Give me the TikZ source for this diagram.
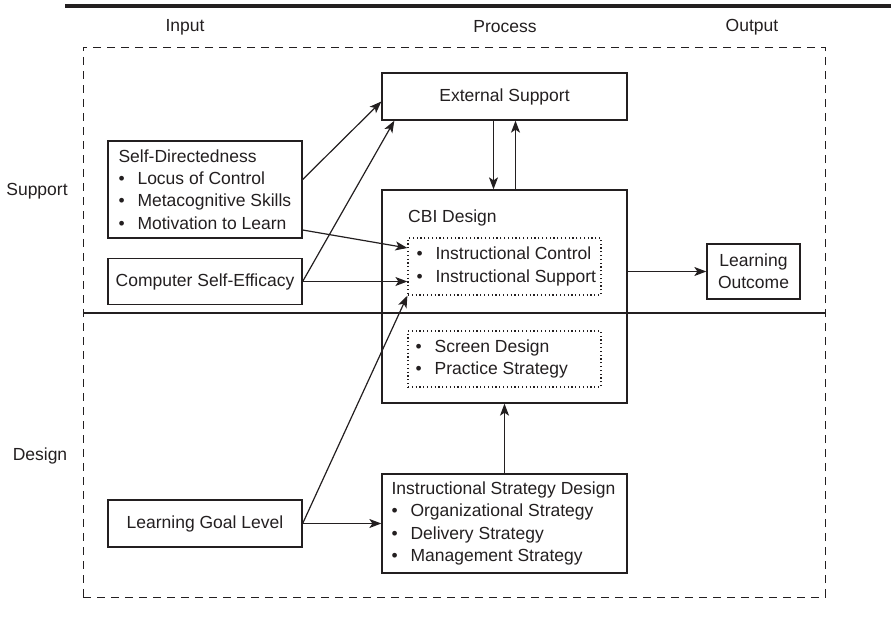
\documentclass[tikz,border=0pt]{standalone}
\usepackage{fontspec}
\setmainfont{Liberation Sans}
\usetikzlibrary{arrows.meta,calc}
\definecolor{ink}{RGB}{35,31,32}
% bullet followed by a fixed gap before the item text
\newcommand\bul{\makebox[19pt][l]{\textbullet}}

\begin{document}
\begin{tikzpicture}[x=1pt,y=-1pt,
  every node/.style={font=\fontsize{17.5}{22.4}\selectfont, text=ink},
  box/.style={draw=ink, line width=1.3pt, inner sep=0pt, rectangle},
  dotbox/.style={draw=ink, line width=1.2pt, dash pattern=on 1.2pt off 2.6pt, inner sep=0pt, rectangle},
  txt/.style={inner sep=0pt, align=left, anchor=west},
  arr/.style={draw=ink, line width=1.2pt, -{Stealth[length=12pt,width=9pt,inset=3pt]}},
]
\useasboundingbox (0,0) rectangle (891,637);

% top rule
\coordinate (ruleL) at (65,6);
\coordinate (ruleR) at (891,6);
\draw[ink, line width=3.2pt] (ruleL) -- (ruleR);

% column headers
\node (hin)  at (185,27) {Input};
\node (hpro) at (505,27) {Process};
\node (hout) at (752,27) {Output};

% row labels
\node (rsup) at (37,191) {Support};
\node (rdes) at (40,456) {Design};

% outer dashed frame and the row divider
\node[draw=ink, line width=1pt, dash pattern=on 8pt off 6pt, minimum width=742pt, minimum height=550pt, inner sep=0pt] (frame) at (454,322) {};
\coordinate (divL) at (83,313);
\coordinate (divR) at (825,313);
\draw[ink, line width=1.3pt] (divL) -- (divR);

% input boxes
\node[box, minimum width=194pt, minimum height=97pt] (selfdir) at (205,189.5) {};
\node[txt] (selfdirtxt) at ([xshift=11pt]selfdir.west)
  {Self-Directedness\\\bul Locus of Control\\\bul Metacognitive Skills\\\bul Motivation to Learn};
\node[box, minimum width=194pt, minimum height=46pt] (csse) at (205,281.5) {Computer Self-Efficacy};
\node[box, minimum width=194pt, minimum height=47pt] (lgl) at (205,523.5) {Learning Goal Level};

% process boxes
\node[box, minimum width=245pt, minimum height=47pt] (extsup) at (504.5,96.5) {External Support};
\node[box, minimum width=245pt, minimum height=213pt] (cbi) at (504.5,296.5) {};
\node[txt] (cbilabel) at (408,218) {CBI Design};
\node[dotbox, minimum width=193pt, minimum height=57pt] (dot1) at (504.5,266.5) {};
\node[txt] (dot1txt) at ([xshift=9pt]dot1.west) {\bul Instructional Control\\\bul Instructional Support};
\node[dotbox, minimum width=193pt, minimum height=56pt] (dot2) at (504.5,359) {};
\node[txt] (dot2txt) at ([xshift=8pt]dot2.west) {\bul Screen Design\\\bul Practice Strategy};
\node[box, minimum width=245pt, minimum height=99pt] (isd) at (504.5,523.5) {};
\node[txt] (isdtxt) at ([xshift=10pt]isd.west)
  {Instructional Strategy Design\\\bul Organizational Strategy\\\bul Delivery Strategy\\\bul Management Strategy};

% output box
\node[box, minimum width=93pt, minimum height=55pt, align=center] (lo) at (753.5,271.5) {Learning\\Outcome};

% connectors
\draw[arr] ([yshift=10pt]selfdir.east) -- ([yshift=-5pt]extsup.west);
\draw[arr] (csse.east) -- ([xshift=13pt]extsup.south west);
\draw[arr] ([yshift=-40.5pt]selfdir.east) -- ([yshift=18.5pt]dot1.west);
\draw[arr] (csse.east) -- (csse.east -| dot1.west);
\draw[arr] (lgl.east) -- (dot1.south west);
\draw[arr] (lgl.east) -- (isd.west);
\draw[arr] ([xshift=-11pt]extsup.south) -- ([xshift=-11pt]cbi.north);
\draw[arr] ([xshift=11pt]cbi.north) -- ([xshift=11pt]extsup.south);
\draw[arr] (cbi.east |- lo.west) -- (lo.west);
\draw[arr] (isd.north) -- (cbi.south);
\end{tikzpicture}
\end{document}
